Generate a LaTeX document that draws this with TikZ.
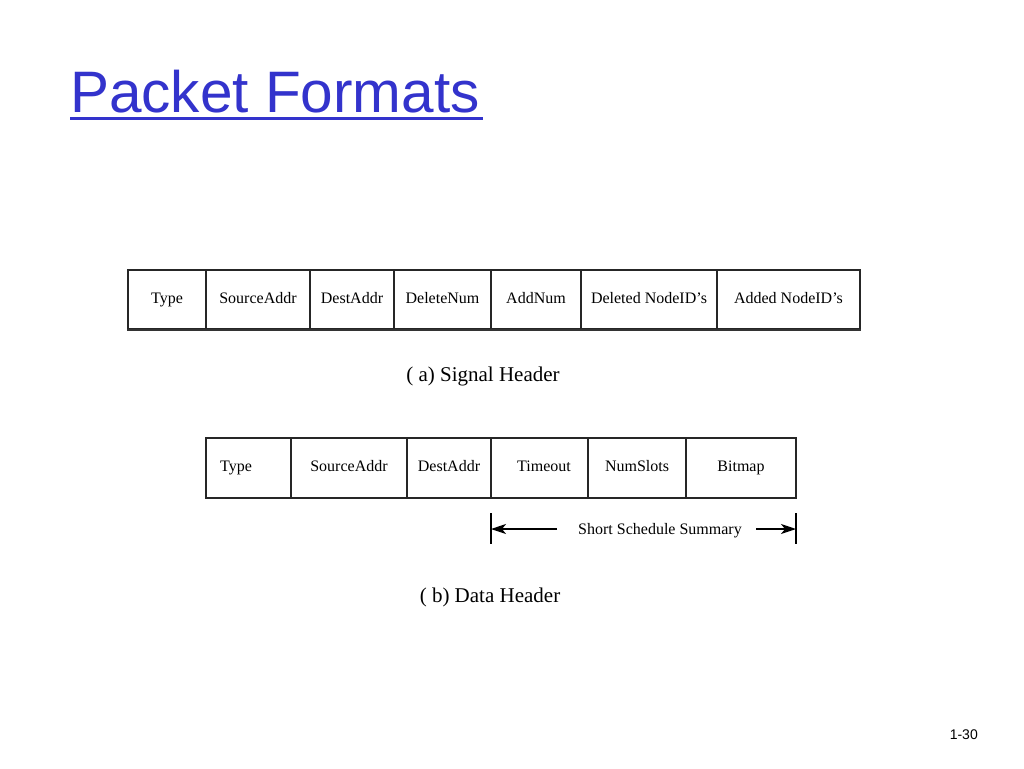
\documentclass[tikz,border=0pt]{standalone}
\usepackage{fontspec}
\setmainfont{Liberation Serif}
\newfontfamily\titlefont{Liberation Sans}
\usetikzlibrary{arrows.meta}
\definecolor{titleblue}{RGB}{51,51,204}
\tikzset{
  txt/.style={font=\fontsize{16}{19}\selectfont, text height=11pt, text depth=3.5pt},
  cell/.style={draw=black!85, line width=1.1pt, minimum height=59pt, inner sep=0pt, txt},
  dcell/.style={cell, minimum height=60pt},
  caption/.style={font=\fontsize{21}{25}\selectfont, inner sep=0pt},
  arr/.style={line width=1.2pt, -{Stealth[length=15pt,width=10pt,inset=4pt]}},
  tick/.style={line width=1.1pt},
}
\begin{document}
\begin{tikzpicture}[x=1pt,y=-1pt]
\useasboundingbox (0,0) rectangle (1024,768);
\fill[white] (0,0) rectangle (1024,768);
% title
\node[anchor=base west, inner sep=0pt, text=titleblue, font=\titlefont\fontsize{58.5}{68}\selectfont] (title) at (70,112) {Packet Formats};
\draw[titleblue, line width=3pt] (70,118.5) -- (483,118.5);
% signal header
\node[cell, minimum width=78pt]  (s1) at (167,299.5) {Type};
\node[cell, minimum width=104pt] (s2) at (258,299.5) {SourceAddr};
\node[cell, minimum width=84pt]  (s3) at (352,299.5) {DestAddr};
\node[cell, minimum width=97pt]  (s4) at (442.5,299.5) {DeleteNum};
\node[cell, minimum width=90pt]  (s5) at (536,299.5) {AddNum};
\node[cell, minimum width=136pt] (s6) at (649,299.5) {Deleted NodeID's};
\node[cell, minimum width=143pt] (s7) at (788.5,299.5) {Added NodeID's};
\draw[line width=2pt, black!80] (s1.south west) -- (s7.south east);
\node[caption] (capa) at (483,376) {( a) Signal Header};
% data header
\node[dcell, minimum width=85pt]  (d1) at (248.5,468) {};
\node[txt, inner sep=0pt] (d1t) at (236,468) {Type};
\node[dcell, minimum width=116pt] (d2) at (349,468) {SourceAddr};
\node[dcell, minimum width=84pt]  (d3) at (449,468) {DestAddr};
\node[dcell, minimum width=97pt]  (d4) at (539.5,468) {};
\node[txt, inner sep=0pt] (d4t) at (544,468) {Timeout};
\node[dcell, minimum width=98pt]  (d5) at (637,468) {NumSlots};
\node[dcell, minimum width=110pt] (d6) at (741,468) {Bitmap};
% schedule summary
\coordinate (t1a) at (491,513);
\coordinate (t1b) at (491,544);
\coordinate (t2a) at (796,513);
\coordinate (t2b) at (796,544);
\coordinate (lt) at (491,529);
\coordinate (rt) at (796,529);
\draw[tick] (t1a) -- (t1b);
\draw[tick] (t2a) -- (t2b);
\node[txt, inner sep=0pt] (ssum) at (660,531) {Short Schedule Summary};
\coordinate (la) at (557,529);
\coordinate (ra) at (756,529);
\draw[arr] (la) -- (lt);
\draw[arr] (ra) -- (rt);
\node[caption] (capb) at (490,597) {( b) Data Header};
% page number
\node[anchor=base east, inner sep=0pt, font=\titlefont\fontsize{14}{16}\selectfont] (pg) at (978,739) {1-30};
\end{tikzpicture}
\end{document}
